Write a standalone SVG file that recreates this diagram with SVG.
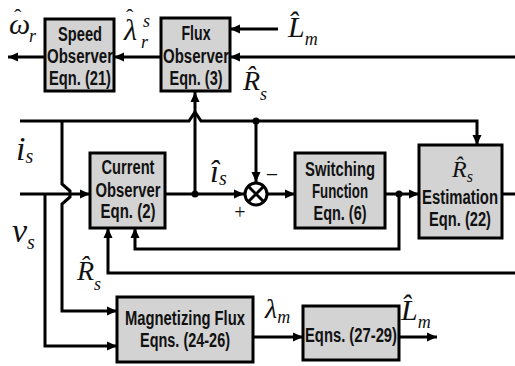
<svg xmlns="http://www.w3.org/2000/svg" width="515" height="366" viewBox="0 0 515 366">
<defs>
<marker id="ar" markerUnits="userSpaceOnUse" markerWidth="11" markerHeight="10" refX="10" refY="5" orient="auto">
<path d="M0,0.5 L10,5 L0,9.5 z" fill="#000"/>
</marker>
<style>
.box{fill:#d3d3d3;stroke:#000;stroke-width:3}
.b{font-family:"Liberation Sans Narrow","Liberation Sans",Arial,sans-serif;font-weight:bold;font-size:19.5px;text-anchor:middle;fill:#111}
.m{font-family:"Liberation Serif","Times New Roman",serif;font-style:italic;fill:#111}
.h{font-family:"Liberation Serif","Times New Roman",serif;fill:#111}
.c{fill:none;stroke:#000;stroke-width:3}
.a{marker-end:url(#ar)}
</style>
</defs>
<rect width="515" height="366" fill="#fff"/>

<g id="connectors">
<path class="c a" d="M161,57 H114"/>
<path class="c a" d="M45,57 H8"/>
<path class="c a" d="M278,29 H230"/>
<path class="c a" d="M515,57 H230"/>
<path class="c a" d="M20,121 H189 L195,112 L201,121 H477 V145"/>
<path class="c a" d="M256,121 V182"/>
<path class="c a" d="M195,194 V92"/>
<path class="c a" d="M62,121 V184 L70,191 V197 L62,204 V311 H117"/>
<path class="c a" d="M20,194 H90"/>
<path class="c a" d="M45,194 V346 H117"/>
<path class="c a" d="M165,194 H244"/>
<path class="c a" d="M267,194 H295"/>
<path class="c a" d="M385,194 H419"/>
<path class="c a" d="M399,194 V249 H135 V228"/>
<path class="c" d="M502,194 H515"/>
<path class="c a" d="M515,273 H108 V228"/>
<path class="c a" d="M253,337 H303"/>
<path class="c a" d="M399,337 H437"/>
<circle cx="195" cy="194" r="3.5"/>
<circle cx="256" cy="121" r="3.5"/>
<circle cx="399" cy="194" r="3.5"/>
</g>

<g id="multiplier">
<circle cx="256" cy="194" r="11" fill="#fff" stroke="#000" stroke-width="3"/>
<path d="M248.2,186.2 L263.8,201.8 M263.8,186.2 L248.2,201.8" stroke="#000" stroke-width="3"/>
<text class="h" x="240" y="219" font-size="20" text-anchor="middle">+</text>
<text class="h" x="272" y="182" font-size="22" text-anchor="middle">−</text>
</g>

<g id="speed-observer">
<rect class="box" x="45" y="19" width="69" height="72"/>
<text class="b" x="80" y="41" textLength="44" lengthAdjust="spacingAndGlyphs">Speed</text>
<text class="b" x="80" y="63" textLength="66" lengthAdjust="spacingAndGlyphs">Observer</text>
<text class="b" x="80" y="85" textLength="62" lengthAdjust="spacingAndGlyphs">Eqn. (21)</text>
</g>

<g id="flux-observer">
<rect class="box" x="161" y="18" width="69" height="73"/>
<text class="b" x="196" y="40" textLength="29" lengthAdjust="spacingAndGlyphs">Flux</text>
<text class="b" x="196" y="63" textLength="66" lengthAdjust="spacingAndGlyphs">Observer</text>
<text class="b" x="196" y="85" textLength="53" lengthAdjust="spacingAndGlyphs">Eqn. (3)</text>
</g>

<g id="current-observer">
<rect class="box" x="90" y="153" width="75" height="75"/>
<text class="b" x="128" y="174" textLength="53" lengthAdjust="spacingAndGlyphs">Current</text>
<text class="b" x="128" y="197" textLength="65" lengthAdjust="spacingAndGlyphs">Observer</text>
<text class="b" x="128" y="218" textLength="55" lengthAdjust="spacingAndGlyphs">Eqn. (2)</text>
</g>

<g id="switching-function">
<rect class="box" x="295" y="153" width="90" height="75"/>
<text class="b" x="340" y="176" textLength="70" lengthAdjust="spacingAndGlyphs">Switching</text>
<text class="b" x="340" y="198" textLength="56" lengthAdjust="spacingAndGlyphs">Function</text>
<text class="b" x="340" y="220" textLength="53" lengthAdjust="spacingAndGlyphs">Eqn. (6)</text>
</g>

<g id="rs-estimation">
<rect class="box" x="419" y="145" width="83" height="93"/>
<text class="m" x="452" y="177" font-size="24">R̂<tspan font-size="16" dy="5">s</tspan></text>
<text class="b" x="460" y="204" textLength="76" lengthAdjust="spacingAndGlyphs">Estimation</text>
<text class="b" x="460" y="226" textLength="62" lengthAdjust="spacingAndGlyphs">Eqn. (22)</text>
</g>

<g id="magnetizing-flux">
<rect class="box" x="117" y="297" width="136" height="65"/>
<text class="b" x="185" y="325" textLength="120" lengthAdjust="spacingAndGlyphs">Magnetizing Flux</text>
<text class="b" x="185" y="347" textLength="90" lengthAdjust="spacingAndGlyphs">Eqns. (24-26)</text>
</g>

<g id="eqns-27-29">
<rect class="box" x="303" y="306" width="96" height="54"/>
<text class="b" x="351" y="342" textLength="92" lengthAdjust="spacingAndGlyphs">Eqns. (27-29)</text>
</g>

<g id="labels">
<text class="m" x="9" y="34" font-size="30">ω<tspan class="h" font-style="normal" font-size="22" x="14" y="24">ˆ</tspan><tspan font-size="18" x="29" y="42">r</tspan></text>
<text class="m" x="124" y="40" font-size="30">λ<tspan font-style="normal" font-size="22" x="126" y="24">ˆ</tspan><tspan font-size="18" x="141" y="48">r</tspan><tspan font-size="18" x="143" y="27">s</tspan></text>
<text class="m" x="288" y="37" font-size="30">L̂<tspan font-size="18" dy="8">m</tspan></text>
<text class="m" x="243" y="90" font-size="28">R̂<tspan font-size="18" dy="10">s</tspan></text>
<text class="m" x="16" y="160" font-size="34">i<tspan font-size="20" dy="3">s</tspan></text>
<text class="m" x="12" y="242" font-size="34">v<tspan font-size="20" dy="7">s</tspan></text>
<text class="m" x="210" y="182" font-size="32">î<tspan font-size="20" dy="3">s</tspan></text>
<text class="m" x="77" y="280" font-size="28">R̂<tspan font-size="18" dy="10">s</tspan></text>
<text class="m" x="265" y="318" font-size="28">λ<tspan font-size="18" dy="5">m</tspan></text>
<text class="m" x="401" y="320" font-size="30">L̂<tspan font-size="18" dy="8">m</tspan></text>
</g>
</svg>
